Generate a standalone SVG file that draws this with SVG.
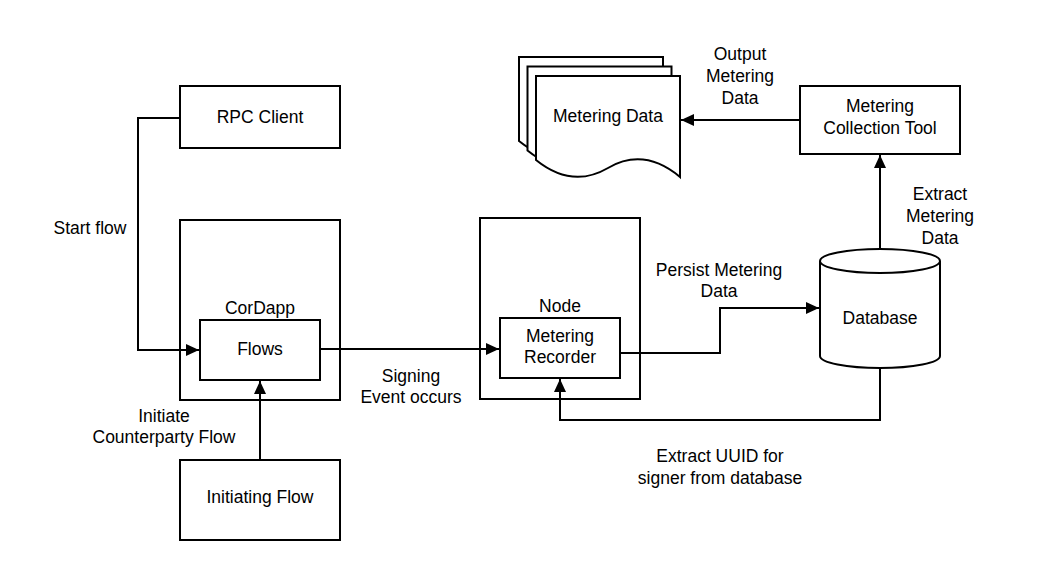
<svg xmlns="http://www.w3.org/2000/svg" width="1040" height="580" viewBox="0 0 1040 580">
<style>
.box{fill:#fff;stroke:#000;stroke-width:2}
.ln{fill:none;stroke:#000;stroke-width:2}
text{font-family:"Liberation Sans",Arial,sans-serif;font-size:17.5px;fill:#000;text-anchor:middle}
</style>
<defs>
<marker id="arr" markerUnits="userSpaceOnUse" markerWidth="14" markerHeight="12" refX="13" refY="6" orient="auto">
<path d="M0,0 L13,6 L0,12 Z" fill="#000"/>
</marker>
<path id="doc" d="M0,0 H144 V101 Q108,71 72,92 Q36,113 0,84 Z"/>
</defs>
<rect width="1040" height="580" fill="#fff"/>
<g id="rpc-client">
<rect class="box" x="180" y="86" width="160" height="62"/>
<text x="260" y="123">RPC Client</text>
</g>
<g id="cordapp">
<rect class="box" x="180" y="220" width="160" height="180"/>
<text x="260" y="314">CorDapp</text>
</g>
<g id="flows">
<rect class="box" x="200" y="320" width="120" height="60"/>
<text x="260" y="355">Flows</text>
</g>
<g id="initiating-flow">
<rect class="box" x="180" y="460" width="160" height="80"/>
<text x="260" y="503">Initiating Flow</text>
</g>
<g id="node">
<rect class="box" x="480" y="218" width="160" height="181"/>
<text x="560" y="312">Node</text>
</g>
<g id="metering-recorder">
<rect class="box" x="500" y="318" width="120" height="60"/>
<text x="560" y="342">Metering</text>
<text x="560" y="363">Recorder</text>
</g>
<g id="database">
<path class="box" d="M820,261 A60,12 0 0 1 940,261 V356 A60,12 0 0 1 820,356 Z"/>
<path class="ln" d="M820,261 A60,12 0 0 0 940,261"/>
<text x="880" y="324">Database</text>
</g>
<g id="metering-collection-tool">
<rect class="box" x="800" y="86" width="160" height="68"/>
<text x="880" y="112">Metering</text>
<text x="880" y="134">Collection Tool</text>
</g>
<g id="metering-data">
<use href="#doc" x="519" y="57" class="box"/>
<use href="#doc" x="527.5" y="66.5" class="box"/>
<use href="#doc" x="536" y="76" class="box"/>
<text x="608" y="122">Metering Data</text>
</g>
<g id="connectors">
<path class="ln" d="M180,118 H138 V350 H199" marker-end="url(#arr)"/>
<path class="ln" d="M260,460 V381" marker-end="url(#arr)"/>
<path class="ln" d="M320,349 H499" marker-end="url(#arr)"/>
<path class="ln" d="M620,353 H720 V308 H819" marker-end="url(#arr)"/>
<path class="ln" d="M880,368 V420 H560 V379" marker-end="url(#arr)"/>
<path class="ln" d="M880,249 V155" marker-end="url(#arr)"/>
<path class="ln" d="M800,120 H681" marker-end="url(#arr)"/>
<text x="90" y="234">Start flow</text>
<text x="164" y="422">Initiate</text>
<text x="164" y="443">Counterparty Flow</text>
<text x="411" y="382">Signing</text>
<text x="411" y="403">Event occurs</text>
<text x="719" y="276">Persist Metering</text>
<text x="719" y="297">Data</text>
<text x="720" y="462">Extract UUID for</text>
<text x="720" y="484">signer from database</text>
<text x="940" y="200">Extract</text>
<text x="940" y="222">Metering</text>
<text x="940" y="244">Data</text>
<text x="740" y="60">Output</text>
<text x="740" y="82">Metering</text>
<text x="740" y="104">Data</text>
</g>
</svg>
